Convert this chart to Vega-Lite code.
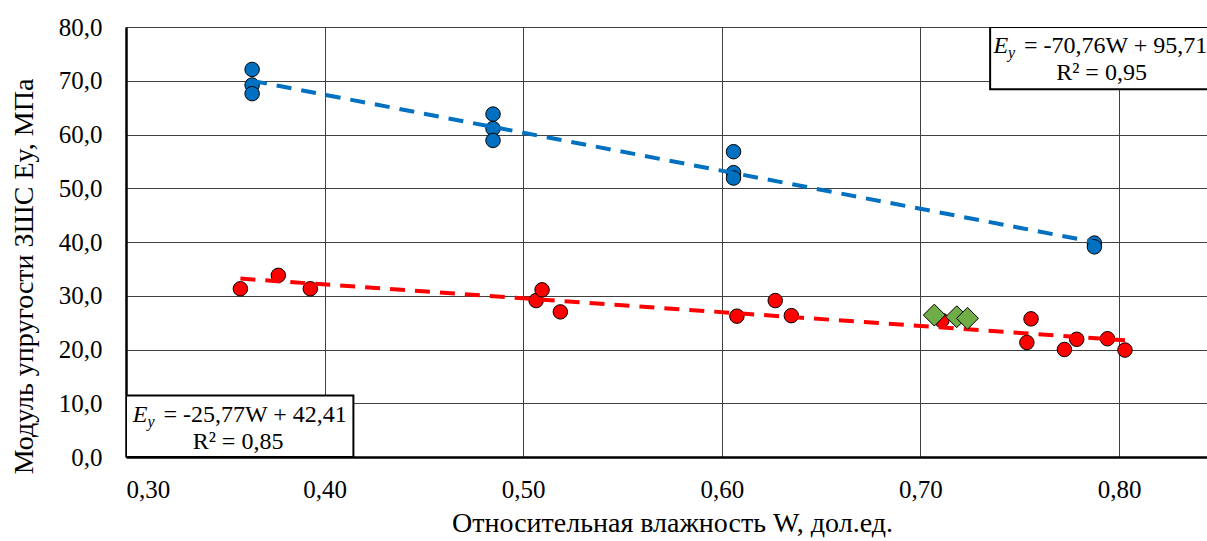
{
  "$schema": "https://vega.github.io/schema/vega-lite/v6.json",
  "width": 1081,
  "height": 430,
  "autosize": {"type": "none"},
  "padding": {"left": 126, "top": 27, "right": 0, "bottom": 84},
  "background": "white",
  "config": {
    "view": {"stroke": null},
    "font": "Liberation Serif"
  },
  "datasets": {
    "blue": [
      {"W": 0.3635, "E": 72.1}, {"W": 0.3635, "E": 69.2}, {"W": 0.3635, "E": 67.6},
      {"W": 0.4848, "E": 63.8}, {"W": 0.4848, "E": 61.1}, {"W": 0.4848, "E": 58.9},
      {"W": 0.6059, "E": 56.8}, {"W": 0.6059, "E": 52.9}, {"W": 0.6059, "E": 51.9},
      {"W": 0.7876, "E": 39.8}, {"W": 0.7876, "E": 39.1}
    ],
    "red": [
      {"W": 0.3576, "E": 31.3}, {"W": 0.3767, "E": 33.8}, {"W": 0.3928, "E": 31.3},
      {"W": 0.5065, "E": 29.1}, {"W": 0.5095, "E": 31.1}, {"W": 0.5187, "E": 27.0},
      {"W": 0.6076, "E": 26.2}, {"W": 0.6269, "E": 29.1}, {"W": 0.635, "E": 26.3},
      {"W": 0.7108, "E": 25.4}, {"W": 0.7557, "E": 25.7}, {"W": 0.7536, "E": 21.3},
      {"W": 0.7725, "E": 20.0}, {"W": 0.7787, "E": 21.9}, {"W": 0.7942, "E": 22.0},
      {"W": 0.803, "E": 19.9}
    ],
    "green": [
      {"W": 0.707, "E": 26.4}, {"W": 0.7183, "E": 26.1}, {"W": 0.7237, "E": 25.8}
    ],
    "trend": [
      {"s": "blue", "W": 0.3635, "E": 69.99}, {"s": "blue", "W": 0.7876, "E": 39.98},
      {"s": "red", "W": 0.3576, "E": 33.19}, {"s": "red", "W": 0.803, "E": 21.72}
    ],
    "boxes": [
      {"W": 0.7351, "W2": 0.87, "E": 80, "E2": 68.4},
      {"W": 0.30, "W2": 0.4145, "E": 11.45, "E2": 0}
    ],
    "notes": [
      {"id": "eq", "W": 0.7522, "E": 75.08, "text": "= -70,76W + 95,71"},
      {"id": "r2", "W": 0.7912, "E": 70.1, "text": "R² = 0,95"},
      {"id": "eq", "W": 0.31887, "E": 6.48, "text": "= -25,77W + 42,41"},
      {"id": "r2", "W": 0.3564, "E": 1.53, "text": "R² = 0,85"}
    ]
  },
  "encoding": {
    "x": {
      "field": "W", "type": "quantitative",
      "scale": {"domain": [0.30, 0.8443], "nice": false, "zero": false},
      "axis": {
        "values": [0.3, 0.4, 0.5, 0.6, 0.7, 0.8],
        "labelExpr": "replace(format(datum.value, '.2f'), '.', ',')",
        "labelFont": "Liberation Serif",
        "labelFontSize": 25,
        "labelColor": "black",
        "title": "Относительная влажность W, дол.ед.",
        "titleFont": "Liberation Serif",
        "titleFontSize": 28,
        "titleFontWeight": "normal",
        "titleColor": "black",
        "titleX": 546,
        "titlePadding": 7,
        "labelPadding": 20,
        "tickSize": 0,
        "ticks": false,
        "domainColor": "black",
        "domainWidth": 2.5,
        "grid": true,
        "gridColor": "#404040",
        "gridWidth": 1,
        "gridOpacity": 1
      }
    },
    "y": {
      "field": "E", "type": "quantitative",
      "scale": {"domain": [0, 80], "nice": false},
      "axis": {
        "values": [0, 10, 20, 30, 40, 50, 60, 70, 80],
        "labelExpr": "replace(format(datum.value, '.1f'), '.', ',')",
        "labelFont": "Liberation Serif",
        "labelFontSize": 25,
        "labelColor": "black",
        "title": "Модуль упругости ЗШС Ey, МПа",
        "titleFont": "Liberation Serif",
        "titleFontSize": 28,
        "titleFontWeight": "normal",
        "titleColor": "black",
        "titleY": 249,
        "titlePadding": 20,
        "labelPadding": 24,
        "tickSize": 0,
        "ticks": false,
        "domainColor": "black",
        "domainWidth": 2.5,
        "grid": true,
        "gridColor": "#404040",
        "gridWidth": 1,
        "gridOpacity": 1
      }
    }
  },
  "layer": [
    {
      "data": {"name": "red"},
      "mark": {"type": "point", "shape": "circle", "filled": true, "fill": "#FF0000", "stroke": "black", "strokeWidth": 1, "size": 210, "opacity": 1}
    },
    {
      "data": {"name": "blue"},
      "mark": {"type": "point", "shape": "circle", "filled": true, "fill": "#0070C0", "stroke": "black", "strokeWidth": 1, "size": 210, "opacity": 1}
    },
    {
      "data": {"name": "trend"},
      "transform": [{"filter": "datum.s === 'blue'"}],
      "mark": {"type": "line", "color": "#0070C0", "strokeWidth": 4, "strokeDash": [15, 10]}
    },
    {
      "data": {"name": "trend"},
      "transform": [{"filter": "datum.s === 'red'"}],
      "mark": {"type": "line", "color": "#FF0000", "strokeWidth": 4, "strokeDash": [15, 10]}
    },
    {
      "data": {"name": "green"},
      "mark": {"type": "point", "shape": "diamond", "filled": true, "fill": "#70AD47", "stroke": "black", "strokeWidth": 1, "size": 480, "opacity": 1}
    },
    {
      "data": {"name": "boxes"},
      "mark": {"type": "rect", "fill": "white", "stroke": "black", "strokeWidth": 2, "clip": true},
      "encoding": {
        "x2": {"field": "W2"},
        "y2": {"field": "E2"}
      }
    },
    {
      "data": {"name": "notes"},
      "mark": {"type": "text", "font": "Liberation Serif", "fontSize": 24, "color": "black", "baseline": "alphabetic", "align": "left"},
      "transform": [{"filter": "datum.id === 'eq'"}],
      "encoding": {"text": {"field": "text"}}
    },
    {
      "data": {"name": "notes"},
      "mark": {"type": "text", "font": "Liberation Serif", "fontSize": 24, "color": "black", "baseline": "alphabetic", "align": "center"},
      "transform": [{"filter": "datum.id === 'r2'"}],
      "encoding": {"text": {"field": "text"}}
    },
    {
      "data": {"name": "notes"},
      "mark": {"type": "text", "text": "E", "font": "Liberation Serif", "fontStyle": "italic", "fontSize": 24, "color": "black", "baseline": "alphabetic", "align": "right", "dx": -16},
      "transform": [{"filter": "datum.id === 'eq'"}]
    },
    {
      "data": {"name": "notes"},
      "mark": {"type": "text", "text": "y", "font": "Liberation Serif", "fontStyle": "italic", "fontSize": 16, "color": "black", "baseline": "alphabetic", "align": "left", "dx": -16, "dy": 5},
      "transform": [{"filter": "datum.id === 'eq'"}]
    },
    {
      "data": {"values": [{}]},
      "mark": {"type": "rule", "color": "black", "strokeWidth": 2.5},
      "encoding": {"y": {"datum": 80}, "x": null}
    }
  ]
}
